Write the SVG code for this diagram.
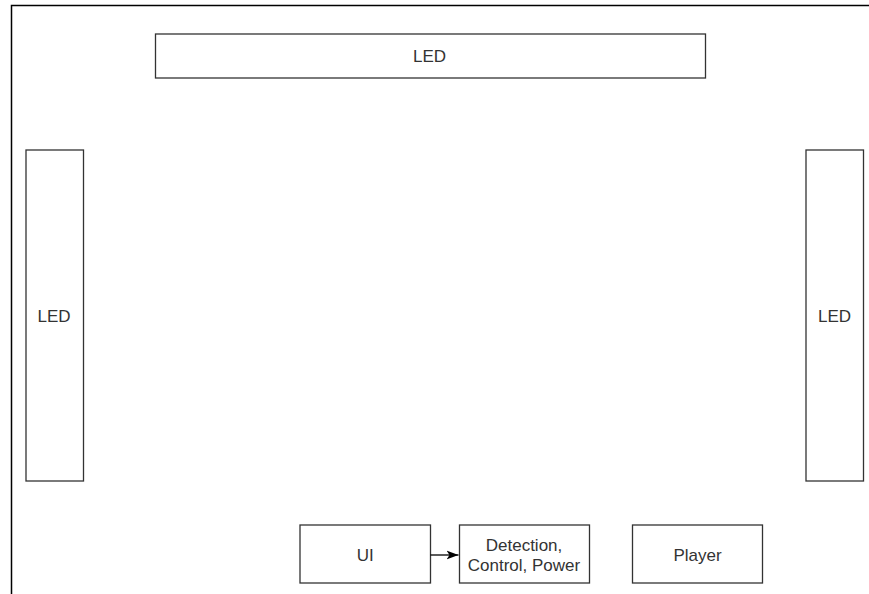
<svg xmlns="http://www.w3.org/2000/svg" width="869" height="594" viewBox="0 0 869 594">
<style>
.box{fill:#fff;stroke:#333;stroke-width:1.3}
.lbl{font-family:"Liberation Sans",Arial,sans-serif;font-size:17px;fill:#333;text-anchor:middle}
.frame{fill:none;stroke:#000;stroke-width:1.5}
.conn{stroke:#000;stroke-width:1.3;fill:none}
</style>
<defs>
<marker id="arr" markerWidth="14" markerHeight="10" refX="12" refY="5" orient="auto" markerUnits="userSpaceOnUse">
<path d="M0,0.5 L12,5 L0,9.5 L3,5 Z" fill="#000"/>
</marker>
</defs>
<rect width="869" height="594" fill="#fff"/>
<path class="frame" d="M11.5,594 V5.5 H869"/>
<g id="led-top"><rect class="box" x="155.5" y="34" width="550" height="44"/><text class="lbl" x="429.5" y="62">LED</text></g>
<g id="led-left"><rect class="box" x="26" y="150" width="57.5" height="331"/><text class="lbl" x="54" y="322">LED</text></g>
<g id="led-right"><rect class="box" x="806" y="150" width="57.5" height="331"/><text class="lbl" x="834.5" y="322">LED</text></g>
<g id="ui"><rect class="box" x="300" y="525" width="130.5" height="58"/><text class="lbl" x="365.25" y="561">UI</text></g>
<g id="detection"><rect class="box" x="459.5" y="525" width="130" height="58"/><text class="lbl" x="524" y="551">Detection,</text><text class="lbl" x="524" y="571">Control, Power</text></g>
<g id="player"><rect class="box" x="632.5" y="525" width="130" height="58"/><text class="lbl" x="697.5" y="561">Player</text></g>
<g id="connectors"><line class="conn" x1="430.5" y1="555" x2="458.5" y2="555" marker-end="url(#arr)"/></g>
</svg>
